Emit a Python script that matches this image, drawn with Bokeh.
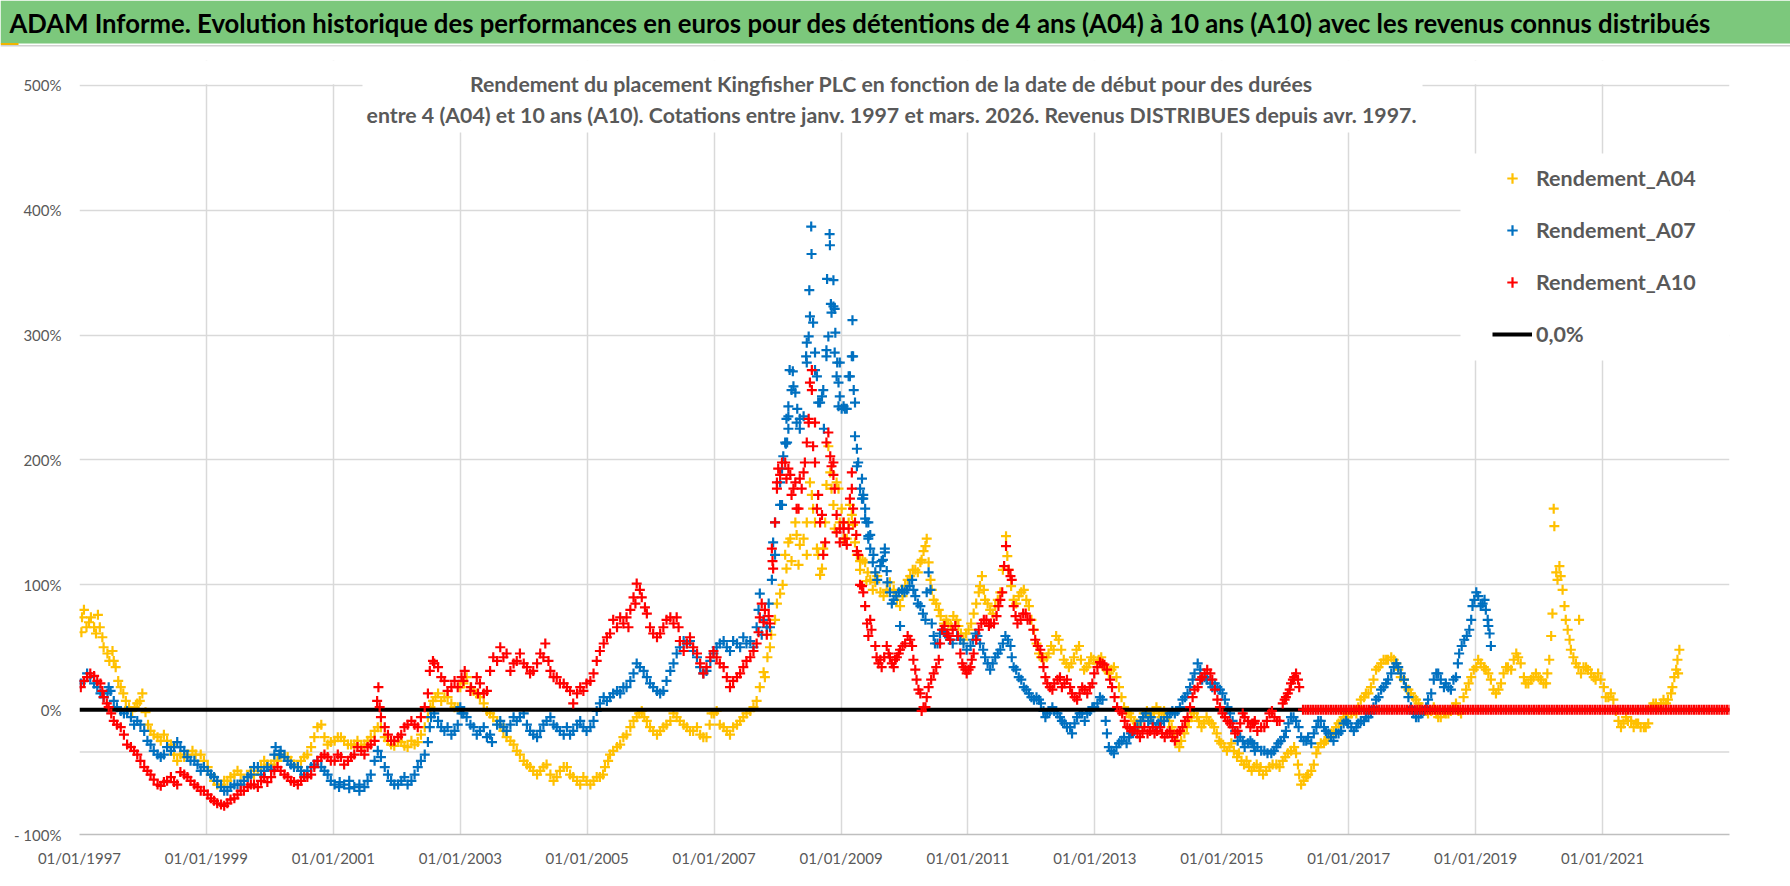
from bokeh.plotting import figure
from bokeh.models import Range1d, FixedTicker, Label, Span, Legend, LegendItem, BoxAnnotation
from bokeh.layouts import column
from bokeh.embed import file_html
from bokeh.resources import INLINE

# ---------------- data (decimal year of start date, performance in %) ----------------
A04 = [(1997.03,62),(1997.07,80),(1997.15,70),(1997.23,66),(1997.29,76),(1997.36,58),(1997.44,45),(1997.52,47),
(1997.57,34),(1997.65,18),(1997.73,7),(1997.83,-1),(1997.91,5),(1997.99,13),(1998.04,-2),(1998.12,-17),(1998.23,-22),
(1998.33,-20),(1998.44,-28),(1998.54,-41),(1998.65,-38),(1998.78,-33),(1998.91,-36),(1999.02,-46),(1999.12,-57),
(1999.23,-60),(1999.33,-57),(1999.44,-52),(1999.54,-52),(1999.65,-54),(1999.75,-52),(1999.86,-46),(1999.96,-44),
(2000.07,-41),(2000.17,-36),(2000.28,-38),(2000.38,-44),(2000.49,-41),(2000.59,-36),(2000.70,-22),(2000.81,-12),
(2000.91,-28),(2001.02,-25),(2001.12,-22),(2001.23,-28),(2001.33,-28),(2001.44,-30),(2001.54,-25),(2001.65,-17),
(2001.75,-14),(2001.86,-25),(2001.96,-29),(2002.07,-26),(2002.17,-30),(2002.28,-28),(2002.38,-20),(2002.49,-6),
(2002.57,7),(2002.65,13),(2002.75,10),(2002.86,5),(2002.96,2),(2003.00,18),(2003.10,26),(2003.21,15),(2003.31,10),
(2003.42,-1),(2003.52,-6),(2003.63,-12),(2003.73,-22),(2003.84,-28),(2003.94,-36),(2004.05,-44),(2004.15,-49),
(2004.26,-49),(2004.36,-44),(2004.47,-57),(2004.57,-49),(2004.68,-46),(2004.78,-54),(2004.89,-60),(2004.99,-57),
(2005.10,-57),(2005.20,-54),(2005.28,-46),(2005.36,-36),(2005.47,-30),(2005.57,-22),(2005.68,-14),(2005.78,-6),
(2005.86,-1),(2005.94,-9),(2006.04,-17),(2006.15,-17),(2006.25,-12),(2006.36,-3),(2006.46,-9),(2006.57,-14),
(2006.67,-17),(2006.78,-20),(2006.88,-22),(2006.96,-3),(2007.04,-1),(2007.15,-14),(2007.25,-20),(2007.36,-12),
(2007.46,-6),(2007.57,-1),(2007.67,7),(2007.72,18),(2007.80,26),(2007.88,50),(2007.96,72),(2008.04,93),(2008.14,113),
(2008.20,137),(2008.28,150),(2008.35,132),(2008.46,150),(2008.51,182),(2008.56,161),(2008.62,129),(2008.70,113),
(2008.75,150),(2008.80,211),(2008.85,177),(2008.93,182),(2008.98,150),(2009.04,150),(2009.09,137),(2009.14,164),
(2009.19,148),(2009.25,124),(2009.30,112),(2009.38,118),(2009.46,104),(2009.54,102),(2009.62,94),(2009.72,96),
(2009.83,96),(2009.93,83),(2010.01,99),(2010.09,107),(2010.17,112),(2010.25,118),(2010.30,127),(2010.35,137),
(2010.41,104),(2010.46,88),(2010.54,80),(2010.62,69),(2010.69,69),(2010.77,75),(2010.85,67),(2010.93,56),(2011.01,64),
(2011.09,77),(2011.17,94),(2011.22,107),(2011.27,88),(2011.35,80),(2011.43,83),(2011.51,94),(2011.60,139),(2011.64,112),
(2011.72,88),(2011.80,91),(2011.88,96),(2011.96,83),(2012.04,64),(2012.12,45),(2012.19,40),(2012.27,45),(2012.35,48),
(2012.43,56),(2012.51,40),(2012.59,34),(2012.67,42),(2012.75,51),(2012.83,32),(2012.91,37),(2012.98,40),(2013.06,40),
(2013.14,34),(2013.22,29),(2013.30,34),(2013.38,18),(2013.46,2),(2013.54,-3),(2013.62,-9),(2013.69,-14),(2013.77,-3),
(2013.85,-3),(2013.93,-1),(2014.01,-3),(2014.09,-1),(2014.17,-9),(2014.25,-19),(2014.33,-30),(2014.41,-19),(2014.48,-9),
(2014.56,-3),(2014.64,-9),(2014.72,-11),(2014.80,-9),(2014.88,-14),(2014.96,-25),(2015.04,-30),(2015.12,-30),
(2015.19,-33),(2015.27,-35),(2015.35,-44),(2015.43,-46),(2015.51,-46),(2015.59,-49),(2015.65,-52),(2015.75,-46),
(2015.86,-44),(2015.96,-41),(2016.04,-35),(2016.14,-30),(2016.20,-44),(2016.25,-60),(2016.33,-54),(2016.41,-49),
(2016.49,-35),(2016.56,-27),(2016.64,-25),(2016.72,-19),(2016.80,-14),(2016.88,-9),(2016.96,-3),(2017.04,-3),
(2017.12,-3),(2017.19,8),(2017.27,13),(2017.35,18),(2017.43,32),(2017.51,37),(2017.59,40),(2017.67,42),(2017.75,37),
(2017.82,26),(2017.90,18),(2017.98,13),(2018.06,8),(2018.14,2),(2018.22,-1),(2018.30,-1),(2018.38,-3),(2018.45,-6),
(2018.53,-3),(2018.61,-1),(2018.69,5),(2018.77,-3),(2018.85,16),(2018.93,26),(2019.01,34),(2019.08,37),(2019.16,32),
(2019.24,24),(2019.32,13),(2019.40,21),(2019.48,34),(2019.56,32),(2019.64,45),(2019.71,37),(2019.79,21),(2019.87,24),
(2019.95,29),(2020.03,24),(2020.11,21),(2020.16,40),(2020.19,59),(2020.21,77),(2020.23,161),(2020.24,147),(2020.27,110),
(2020.32,115),(2020.37,96),(2020.40,83),(2020.45,64),(2020.50,48),(2020.58,37),(2020.63,72),(2020.66,29),(2020.74,34),
(2020.82,29),(2020.89,24),(2020.97,24),(2021.05,10),(2021.13,13),(2021.21,-1),(2021.29,-14),(2021.37,-6),(2021.45,-9),
(2021.53,-11),(2021.60,-14),(2021.68,-14),(2021.76,2),(2021.84,5),(2021.92,5),(2022.00,5),(2022.08,13),(2022.13,26),
(2022.18,40),(2022.21,48)]

# second reading pass (in-between dates, spread of the daily cloud)
A04_B = [(1997.04,74),(1997.11,66),(1997.18,74),(1997.26,61),(1997.32,66),(1997.38,50),(1997.47,39),(1997.54,39),
(1997.61,23),(1997.69,13),(1997.78,2),(1997.87,2),(1997.95,7),(1998.08,-12),(1998.17,-20),(1998.28,-25),(1998.38,-25),
(1998.49,-36),(1998.59,-36),(1998.70,-36),(1998.83,-36),(1998.96,-41),(1999.07,-52),(1999.17,-60),(1999.28,-57),
(1999.38,-54),(1999.49,-49),(1999.59,-57),(1999.70,-49),(1999.81,-49),(1999.91,-41),(2000.02,-44),(2000.12,-41),
(2000.23,-38),(2000.33,-41),(2000.44,-46),(2000.54,-38),(2000.65,-30),(2000.75,-14),(2000.86,-22),(2000.96,-26),
(2001.07,-22),(2001.17,-25),(2001.28,-28),(2001.38,-25),(2001.49,-28),(2001.59,-22),(2001.70,-14),(2001.81,-22),
(2001.91,-28),(2002.02,-25),(2002.12,-29),(2002.23,-25),(2002.33,-26),(2002.44,-14),(2002.53,2),(2002.61,10),
(2002.70,7),(2002.80,10),(2002.91,2),(2003.05,21),(2003.16,18),(2003.26,13),(2003.37,5),(2003.47,-3),(2003.58,-9),
(2003.68,-17),(2003.79,-25),(2003.89,-33),(2004.00,-41),(2004.10,-46),(2004.21,-52),(2004.31,-46),(2004.42,-52),
(2004.52,-54),(2004.63,-46),(2004.73,-52),(2004.84,-57),(2004.94,-54),(2005.05,-60),(2005.15,-54),(2005.25,-52),
(2005.33,-41),(2005.41,-33),(2005.52,-28),(2005.62,-20),(2005.73,-9),(2005.82,-3),(2005.90,-6),(2005.99,-14),
(2006.10,-20),(2006.20,-14),(2006.31,-9),(2006.41,-6),(2006.52,-12),(2006.62,-17),(2006.73,-14),(2006.83,-22),
(2006.93,-12),(2007.00,-3),(2007.09,-12),(2007.20,-17),(2007.30,-14),(2007.41,-9),(2007.51,-3),(2007.62,2),
(2009.34,120),(2009.42,110),(2009.50,96),(2009.57,107),(2009.67,91),(2009.77,102),(2009.88,88),(2009.97,91),
(2010.05,104),(2010.13,112),(2010.21,110),(2010.27,120),(2010.33,131),(2010.38,118),(2010.43,96),(2010.50,85),
(2010.57,75),(2010.66,72),(2010.73,67),(2010.82,72),(2010.89,61),(2010.97,61),(2011.05,69),(2011.13,85),(2011.19,99),
(2011.25,96),(2011.31,85),(2011.39,77),(2011.47,88),(2011.55,112),(2011.62,123),(2011.68,99),(2011.76,85),(2011.84,94),
(2011.92,88),(2012.00,72),(2012.08,53),(2012.15,42),(2012.24,42),(2012.31,51),(2012.39,59),(2012.47,48),(2012.55,37),
(2012.63,37),(2012.71,48),(2012.78,40),(2012.87,34),(2012.94,42),(2013.03,37),(2013.10,42),(2013.18,32),(2013.26,32),
(2013.34,26),(2013.42,10),(2013.50,-1),(2013.57,-6),(2013.66,-11),(2013.73,-9),(2013.82,-1),(2013.89,-6),(2013.97,2),
(2014.05,-6),(2014.13,-3),(2014.21,-14),(2014.29,-25),(2014.36,-25),(2014.45,-14),(2014.52,-6),(2014.61,-6),
(2014.68,-14),(2014.76,-6),(2014.84,-11),(2014.92,-19),(2014.99,-27),(2015.08,-33),(2015.15,-27),(2015.24,-38),
(2015.31,-41),(2015.39,-41),(2015.47,-49),(2015.55,-44),(2015.61,-46),(2015.70,-49),(2015.80,-44),(2015.91,-46),
(2016.00,-38),(2016.09,-33),(2016.17,-35),(2016.22,-52),(2016.29,-57),(2016.36,-52),(2016.45,-44),(2016.52,-30),
(2016.61,-27),(2016.68,-22),(2016.76,-17),(2016.84,-11),(2016.92,-6),(2016.99,-6),(2017.08,-1),(2017.15,2),
(2017.24,10),(2017.31,13),(2017.39,24),(2017.47,34),(2017.55,40),(2017.62,40),(2017.71,40),(2017.78,32),(2017.87,24),
(2017.94,16),(2018.02,10),(2018.10,5),(2018.18,-1),(2018.25,-3),(2018.34,2),(2018.41,-6),(2018.50,-1),(2018.57,-3),
(2018.65,2),(2018.73,-1),(2018.81,10),(2018.89,21),(2018.97,32),(2019.04,40),(2019.13,34),(2019.20,29),(2019.28,16),
(2019.36,16),(2019.44,29),(2019.51,34),(2019.60,40),(2019.67,42),(2019.76,26),(2019.83,21),(2019.91,26),(2019.99,26),
(2020.07,21),(2020.13,29),(2020.29,104),(2020.34,107),(2020.42,72),(2020.48,56),(2020.54,42),(2020.62,34),(2020.70,34),
(2020.77,32),(2020.86,26),(2020.93,29),(2021.02,18),(2021.09,10),(2021.17,8),(2021.25,-9),(2021.33,-11),(2021.40,-9),
(2021.49,-14),(2021.56,-11),(2021.65,-14),(2021.72,-11),(2021.80,5),(2021.88,2),(2021.96,8),(2022.03,8),(2022.10,18),
(2022.16,32),(2022.19,29)]

# third pass: the 2007-2009 peak cloud
A04_C = [(2007.78,30),(2007.84,42),(2007.90,60),(2007.99,85),(2008.08,100),(2008.12,124),(2008.17,134),(2008.22,119),
(2008.30,140),(2008.33,116),(2008.41,137),(2008.46,124),(2008.54,172),(2008.59,150),(2008.64,124),(2008.67,108),
(2008.72,129),(2008.77,180),(2008.83,190),(2008.88,164),(2008.90,145),(2008.96,177),(2009.01,161),(2009.04,137),
(2009.12,150),(2009.17,156),(2009.22,134),(2009.30,119),(2009.40,103)]

A07 = [(1997.02,21),(1997.12,29),(1997.23,21),(1997.33,13),(1997.44,13),(1997.49,15),(1997.59,2),(1997.70,-3),
(1997.81,-6),(1997.91,-9),(1998.02,-17),(1998.12,-28),(1998.23,-36),(1998.33,-36),(1998.44,-33),(1998.54,-26),
(1998.65,-33),(1998.75,-41),(1998.86,-44),(1998.96,-46),(1999.07,-52),(1999.17,-57),(1999.28,-65),(1999.38,-62),
(1999.49,-60),(1999.59,-57),(1999.70,-52),(1999.81,-46),(1999.91,-49),(2000.02,-48),(2000.09,-30),(2000.17,-33),
(2000.28,-41),(2000.38,-46),(2000.49,-49),(2000.59,-49),(2000.70,-44),(2000.81,-46),(2000.91,-52),(2001.02,-60),
(2001.10,-58),(2001.17,-60),(2001.25,-63),(2001.33,-62),(2001.41,-60),(2001.49,-62),(2001.59,-52),(2001.70,-33),
(2001.81,-46),(2001.91,-57),(2002.02,-60),(2002.12,-54),(2002.23,-57),(2002.33,-46),(2002.44,-36),(2002.49,-26),
(2002.54,-6),(2002.65,-9),(2002.75,-17),(2002.86,-20),(2002.96,-12),(2003.00,2),(2003.10,-6),(2003.21,-14),
(2003.31,-17),(2003.42,-22),(2003.50,-26),(2003.58,-12),(2003.68,-14),(2003.79,-12),(2003.89,-9),(2004.00,-3),
(2004.10,-17),(2004.21,-22),(2004.31,-12),(2004.42,-6),(2004.52,-14),(2004.63,-20),(2004.73,-20),(2004.84,-12),
(2004.94,-14),(2005.05,-14),(2005.15,-1),(2005.26,10),(2005.36,10),(2005.47,15),(2005.57,18),(2005.68,23),(2005.78,37),
(2005.89,31),(2005.99,21),(2006.10,15),(2006.20,15),(2006.31,31),(2006.41,45),(2006.52,55),(2006.62,55),(2006.73,42),
(2006.83,29),(2006.94,39),(2007.04,50),(2007.15,55),(2007.25,47),(2007.36,53),(2007.46,58),(2007.57,55),(2007.67,66),
(2007.72,93),(2007.83,66),(2007.91,104),(2007.96,124),(2008.04,164),(2008.07,193),(2008.12,214),(2008.17,235),
(2008.22,256),(2008.24,271),(2008.28,254),(2008.30,230),(2008.35,225),(2008.41,235),(2008.45,283),(2008.49,299),
(2008.50,336),(2008.53,387),(2008.535,365),(2008.56,310),(2008.59,286),(2008.64,246),(2008.70,251),(2008.73,225),
(2008.77,283),(2008.78,345),(2008.82,381),(2008.825,372),(2008.84,325),(2008.88,344),(2008.90,321),(2008.91,302),
(2008.93,267),(2008.96,243),(2008.98,278),(2009.04,243),(2009.09,241),(2009.14,267),(2009.18,312),(2009.19,283),
(2009.22,246),(2009.25,195),(2009.30,177),(2009.35,172),(2009.40,150),(2009.43,137),(2009.46,129),(2009.54,110),
(2009.62,115),(2009.69,126),(2009.77,94),(2009.83,88),(2009.91,94),(2009.93,67),(2009.96,96),(2010.04,96),(2010.12,104),
(2010.17,91),(2010.25,83),(2010.33,72),(2010.38,110),(2010.41,96),(2010.43,69),(2010.48,53),(2010.56,61),(2010.64,61),
(2010.72,56),(2010.83,59),(2010.93,53),(2011.04,51),(2011.12,61),(2011.19,53),(2011.27,42),(2011.35,32),(2011.43,42),
(2011.51,48),(2011.59,59),(2011.67,51),(2011.72,34),(2011.80,26),(2011.88,18),(2011.96,13),(2012.04,8),(2012.12,8),
(2012.19,-1),(2012.25,-3),(2012.33,2),(2012.41,-3),(2012.48,-9),(2012.56,-14),(2012.64,-19),(2012.72,-6),(2012.80,-3),
(2012.88,-3),(2012.96,2),(2013.04,5),(2013.12,8),(2013.17,-9),(2013.22,-30),(2013.30,-35),(2013.38,-27),(2013.46,-22),
(2013.54,-22),(2013.62,-17),(2013.72,-9),(2013.80,-3),(2013.88,-6),(2013.96,-14),(2014.04,-9),(2014.14,-6),(2014.22,-1),
(2014.30,-1),(2014.38,8),(2014.46,13),(2014.54,24),(2014.62,37),(2014.69,24),(2014.77,24),(2014.85,18),(2014.93,18),
(2015.01,13),(2015.09,2),(2015.17,-9),(2015.25,-25),(2015.33,-25),(2015.41,-27),(2015.48,-27),(2015.56,-30),
(2015.67,-33),(2015.78,-35),(2015.86,-30),(2015.93,-25),(2016.01,-17),(2016.09,-6),(2016.17,-9),(2016.25,-22),
(2016.33,-25),(2016.41,-27),(2016.49,-14),(2016.56,-9),(2016.64,-17),(2016.72,-22),(2016.80,-19),(2016.88,-17),
(2016.96,-9),(2017.04,-14),(2017.12,-14),(2017.19,-9),(2017.27,-6),(2017.35,-3),(2017.43,8),(2017.51,16),(2017.59,21),
(2017.67,29),(2017.75,37),(2017.82,29),(2017.90,18),(2017.98,2),(2018.06,-6),(2018.14,-3),(2018.22,2),(2018.30,13),
(2018.38,29),(2018.45,24),(2018.53,21),(2018.61,16),(2018.69,26),(2018.74,45),(2018.82,56),(2018.90,64),(2018.95,83),
(2019.01,94),(2019.08,83),(2019.14,88),(2019.19,72),(2019.22,61),(2019.24,51)]

A07_B = [(1997.07,23),(1997.17,26),(1997.28,18),(1997.38,10),(1997.46,18),(1997.54,7),(1997.65,-1),(1997.75,-1),
(1997.86,-12),(1997.96,-12),(1998.07,-25),(1998.17,-33),(1998.28,-38),(1998.38,-30),(1998.49,-30),(1998.59,-30),
(1998.70,-38),(1998.81,-41),(1998.91,-49),(1999.02,-49),(1999.12,-54),(1999.23,-62),(1999.33,-65),(1999.44,-60),
(1999.54,-60),(1999.65,-54),(1999.75,-46),(1999.86,-52),(1999.96,-46),(2000.07,-36),(2000.15,-36),(2000.23,-38),
(2000.33,-44),(2000.44,-46),(2000.54,-52),(2000.65,-46),(2000.75,-41),(2000.86,-49),(2000.96,-57),(2001.09,-62),
(2001.25,-57),(2001.41,-65),(2001.54,-57),(2001.65,-41),(2001.75,-38),(2001.86,-52),(2001.96,-60),(2002.07,-57),
(2002.17,-60),(2002.28,-52),(2002.38,-41),(2002.52,-14),(2002.59,-3),(2002.70,-14),(2002.80,-14),(2002.91,-17),
(2003.02,-3),(2003.05,-3),(2003.16,-12),(2003.26,-20),(2003.37,-14),(2003.47,-20),(2003.63,-9),(2003.73,-17),
(2003.84,-6),(2003.94,-6),(2004.05,-12),(2004.15,-20),(2004.26,-17),(2004.36,-9),(2004.47,-12),(2004.57,-17),
(2004.68,-14),(2004.78,-17),(2004.89,-9),(2004.99,-17),(2005.10,-9),(2005.20,5),(2005.31,7),(2005.41,13),(2005.52,13),
(2005.62,18),(2005.73,29),(2005.83,34),(2005.94,26),(2006.04,18),(2006.15,13),(2006.25,23),(2006.36,37),(2006.46,50),
(2006.57,53),(2006.67,47),(2006.78,34),(2006.88,31),(2006.99,45),(2007.09,53),(2007.20,50),(2007.30,55),(2007.41,50),
(2007.51,53),(2007.62,50),(2009.33,169),(2009.38,153),(2009.43,139),(2009.50,118),(2009.57,104),(2009.66,120),
(2009.73,102),(2009.80,85),(2009.87,91),(2010.00,94),(2010.08,99),(2010.14,96),(2010.21,85),(2010.29,77),(2010.35,94),
(2010.46,59),(2010.52,53),(2010.61,64),(2010.68,59),(2010.76,53),(2010.88,56),(2010.98,48),(2011.08,56),(2011.15,59),
(2011.24,48),(2011.31,37),(2011.39,37),(2011.47,45),(2011.55,53),(2011.63,56),(2011.69,42),(2011.76,32),(2011.84,24),
(2011.92,16),(2012.00,10),(2012.08,10),(2012.15,5),(2012.22,-6),(2012.29,-1),(2012.36,-1),(2012.45,-6),(2012.52,-11),
(2012.61,-14),(2012.68,-11),(2012.76,-3),(2012.84,-9),(2012.92,-1),(2012.99,2),(2013.08,10),(2013.19,-19),(2013.26,-33),
(2013.34,-30),(2013.42,-25),(2013.50,-27),(2013.57,-19),(2013.67,-14),(2013.76,-6),(2013.84,-9),(2013.92,-11),
(2014.00,-11),(2014.09,-9),(2014.18,-3),(2014.26,-3),(2014.34,2),(2014.42,10),(2014.50,18),(2014.57,29),(2014.66,32),
(2014.73,26),(2014.82,21),(2014.89,21),(2014.97,16),(2015.05,8),(2015.13,-3),(2015.21,-17),(2015.29,-22),(2015.36,-30),
(2015.45,-25),(2015.52,-33),(2015.51,-30),(2015.62,-33),(2015.72,-35),(2015.82,-33),(2015.89,-27),(2015.98,-22),
(2016.05,-11),(2016.13,-6),(2016.21,-14),(2016.29,-25),(2016.36,-22),(2016.45,-19),(2016.52,-9),(2016.61,-14),
(2016.68,-19),(2016.76,-25),(2016.84,-19),(2016.92,-11),(2016.99,-11),(2017.08,-17),(2017.15,-11),(2017.24,-9),
(2017.31,-6),(2017.39,2),(2017.47,10),(2017.55,18),(2017.62,24),(2017.71,34),(2017.78,34),(2017.87,24),(2017.94,10),
(2018.02,-3),(2018.10,-6),(2018.18,-1),(2018.25,8),(2018.34,24),(2018.41,29),(2018.50,18),(2018.57,18),(2018.65,24),
(2018.72,37),(2018.78,51),(2018.86,59),(2018.93,72),(2018.98,88),(2019.04,91),(2019.11,85),(2019.16,80),(2019.20,67)]

A07_C = [(2007.70,80),(2007.75,60),(2007.78,72),(2007.86,85),(2007.88,66),(2007.93,134),(2007.96,150),(2008.04,182),
(2008.07,164),(2008.09,203),(2008.13,213),(2008.14,233),(2008.15,214),(2008.17,243),(2008.17,225),(2008.19,272),
(2008.25,259),(2008.31,241),(2008.35,233),(2008.46,294),(2008.46,278),(2008.51,315),(2008.59,272),(2008.62,267),
(2008.67,246),(2008.72,256),(2008.77,288),(2008.80,299),(2008.85,318),(2008.88,323),(2008.90,286),(2008.94,278),
(2008.96,262),(2008.98,251),(2009.01,241),(2009.06,241),(2009.12,267),(2009.17,283),(2009.20,256),(2009.22,219),
(2009.25,209),(2009.27,198),(2009.33,185),(2009.35,169),(2009.38,161),(2009.43,150),(2009.46,140),(2009.51,124),
(2009.64,119),(2009.69,129),(2009.72,111)]

A10 = [(1997.02,18),(1997.12,26),(1997.23,27),(1997.33,21),(1997.38,10),(1997.46,2),(1997.54,-9),(1997.65,-14),
(1997.75,-28),(1997.86,-33),(1997.96,-41),(1998.07,-49),(1998.17,-56),(1998.28,-61),(1998.38,-57),(1998.49,-58),
(1998.59,-50),(1998.70,-54),(1998.81,-60),(1998.91,-65),(1999.02,-68),(1999.12,-73),(1999.23,-76),(1999.33,-75),
(1999.44,-71),(1999.54,-65),(1999.65,-62),(1999.75,-60),(1999.86,-57),(1999.96,-58),(2000.07,-49),(2000.17,-49),
(2000.28,-54),(2000.38,-58),(2000.49,-57),(2000.59,-54),(2000.70,-46),(2000.81,-38),(2000.91,-38),(2001.02,-41),
(2001.12,-38),(2001.23,-41),(2001.33,-36),(2001.44,-33),(2001.54,-30),(2001.65,-25),(2001.71,18),(2001.75,-6),
(2001.86,-20),(2001.96,-25),(2002.07,-20),(2002.17,-12),(2002.28,-12),(2002.38,-6),(2002.49,13),(2002.57,39),
(2002.65,34),(2002.75,23),(2002.86,18),(2002.96,18),(2003.07,31),(2003.17,18),(2003.28,13),(2003.31,21),(2003.42,15),
(2003.52,42),(2003.63,50),(2003.73,45),(2003.84,37),(2003.94,45),(2004.05,34),(2004.15,31),(2004.26,45),(2004.34,53),
(2004.42,31),(2004.52,26),(2004.63,21),(2004.73,15),(2004.78,5),(2004.89,18),(2004.99,21),(2005.10,29),(2005.20,47),
(2005.31,58),(2005.41,72),(2005.52,74),(2005.62,74),(2005.68,80),(2005.73,90),(2005.78,101),(2005.86,90),(2005.94,77),
(2005.99,66),(2006.10,58),(2006.20,66),(2006.31,74),(2006.41,74),(2006.46,55),(2006.52,47),(2006.62,58),(2006.73,45),
(2006.83,29),(2006.94,42),(2007.04,42),(2007.15,34),(2007.25,18),(2007.36,26),(2007.46,34),(2007.57,42),(2007.67,53),
(2007.72,74),(2007.80,80),(2007.88,69),(2007.91,129),(2007.96,150),(2007.99,182),(2008.04,188),(2008.12,198),
(2008.17,193),(2008.25,177),(2008.30,161),(2008.35,185),(2008.43,198),(2008.49,230),(2008.51,262),(2008.54,272),
(2008.56,211),(2008.62,161),(2008.67,150),(2008.72,124),(2008.80,222),(2008.85,195),(2008.88,188),(2008.93,156),
(2008.98,145),(2009.04,145),(2009.09,132),(2009.14,169),(2009.17,190),(2009.22,150),(2009.25,127),(2009.30,100),
(2009.35,94),(2009.38,83),(2009.41,69),(2009.43,59),(2009.48,64),(2009.54,51),(2009.59,37),(2009.64,34),(2009.72,51),
(2009.77,42),(2009.83,34),(2009.88,42),(2009.93,48),(2010.01,53),(2010.09,56),(2010.14,40),(2010.19,24),(2010.25,13),
(2010.27,-1),(2010.33,2),(2010.38,18),(2010.46,29),(2010.54,40),(2010.59,64),(2010.67,61),(2010.72,56),(2010.80,67),
(2010.88,45),(2010.93,34),(2010.98,29),(2011.04,34),(2011.09,45),(2011.17,64),(2011.25,72),(2011.33,67),(2011.41,69),
(2011.48,83),(2011.54,94),(2011.60,131),(2011.64,112),(2011.69,104),(2011.75,75),(2011.83,72),(2011.91,77),(2011.98,72),
(2012.06,56),(2012.14,48),(2012.19,34),(2012.25,21),(2012.33,16),(2012.41,24),(2012.48,18),(2012.56,24),(2012.64,13),
(2012.72,8),(2012.80,18),(2012.88,13),(2012.96,21),(2013.04,34),(2013.12,37),(2013.19,32),(2013.27,18),(2013.35,2),
(2013.43,-3),(2013.51,-14),(2013.59,-17),(2013.67,-19),(2013.75,-17),(2013.83,-19),(2013.91,-14),(2013.98,-17),
(2014.06,-19),(2014.14,-19),(2014.22,-22),(2014.30,-19),(2014.38,-14),(2014.46,-6),(2014.54,10),(2014.62,18),
(2014.69,26),(2014.77,32),(2014.85,24),(2014.93,8),(2015.01,-3),(2015.09,-9),(2015.17,-14),(2015.25,-17),(2015.33,-3),
(2015.41,-9),(2015.48,-11),(2015.56,-17),(2015.67,-14),(2015.75,-3),(2015.83,-6),(2015.91,-9),(2015.96,5),(2016.01,10),
(2016.07,16),(2016.12,24),(2016.17,29),(2016.22,18)]

A10_B = [(1997.07,23),(1997.17,29),(1997.28,23),(1997.36,15),(1997.43,5),(1997.50,-3),(1997.59,-12),(1997.70,-20),
(1997.81,-30),(1997.91,-36),(1998.02,-46),(1998.12,-52),(1998.23,-60),(1998.33,-58),(1998.44,-54),(1998.54,-60),
(1998.65,-52),(1998.75,-57),(1998.86,-62),(1998.96,-65),(1999.07,-71),(1999.17,-75),(1999.28,-77),(1999.38,-72),
(1999.49,-68),(1999.59,-65),(1999.70,-60),(1999.81,-62),(1999.91,-54),(2000.02,-54),(2000.12,-46),(2000.23,-52),
(2000.33,-57),(2000.44,-60),(2000.54,-54),(2000.65,-52),(2000.75,-41),(2000.86,-36),(2000.96,-41),(2001.07,-36),
(2001.17,-44),(2001.28,-38),(2001.38,-30),(2001.49,-36),(2001.59,-28),(2001.69,7),(2001.73,2),(2001.81,-14),
(2001.91,-25),(2002.02,-22),(2002.12,-14),(2002.23,-9),(2002.33,-14),(2002.44,2),(2002.52,31),(2002.59,37),(2002.70,26),
(2002.80,15),(2002.91,23),(2003.02,26),(2003.05,23),(2003.16,15),(2003.26,26),(2003.37,13),(2003.47,31),(2003.58,39),
(2003.68,42),(2003.79,31),(2003.89,39),(2004.00,37),(2004.10,29),(2004.21,37),(2004.31,42),(2004.39,39),(2004.47,26),
(2004.57,21),(2004.68,18),(2004.84,13),(2004.94,15),(2005.05,23),(2005.15,39),(2005.26,53),(2005.36,61),(2005.47,66),
(2005.57,69),(2005.65,66),(2005.76,85),(2005.83,96),(2005.91,82),(2006.04,61),(2006.15,61),(2006.25,72),(2006.36,69),
(2006.44,66),(2006.57,53),(2006.67,50),(2006.78,37),(2006.88,34),(2006.99,47),(2007.09,37),(2007.20,26),(2007.30,23),
(2007.41,29),(2007.51,39),(2007.62,47),(2009.33,99),(2009.46,72),(2009.56,42),(2009.62,40),(2009.68,42),(2009.75,45),
(2009.80,37),(2009.85,40),(2009.91,45),(2009.97,51),(2010.05,59),(2010.12,51),(2010.17,32),(2010.22,16),(2010.30,2),
(2010.35,10),(2010.42,24),(2010.50,34),(2010.56,53),(2010.63,67),(2010.69,59),(2010.76,64),(2010.84,59),(2010.91,37),
(2010.96,32),(2011.01,32),(2011.06,40),(2011.13,56),(2011.21,69),(2011.29,72),(2011.36,69),(2011.45,75),(2011.51,88),
(2011.57,115),(2011.67,107),(2011.72,83),(2011.78,69),(2011.87,77),(2011.94,72),(2012.03,64),(2012.10,51),(2012.17,42),
(2012.22,26),(2012.29,18),(2012.36,21),(2012.45,26),(2012.52,21),(2012.61,18),(2012.68,10),(2012.76,13),(2012.84,16),
(2012.92,18),(2012.99,29),(2013.08,38),(2013.15,36),(2013.24,24),(2013.31,10),(2013.39,-1),(2013.47,-9),(2013.55,-15),
(2013.63,-14),(2013.71,-22),(2013.78,-14),(2013.87,-17),(2013.94,-19),(2014.03,-14),(2014.10,-22),(2014.18,-17),
(2014.26,-25),(2014.34,-17),(2014.42,-9),(2014.50,2),(2014.57,16),(2014.66,24),(2014.73,29),(2014.82,29),(2014.89,16),
(2014.97,2),(2015.05,-6),(2015.13,-11),(2015.21,-19),(2015.29,-11),(2015.36,-6),(2015.45,-14),(2015.52,-9),
(2015.51,-11),(2015.62,-14),(2015.71,-9),(2015.79,-1),(2015.87,-9),(2015.99,8),(2016.04,13),(2016.09,21),(2016.14,26),
(2016.20,24)]

A10_C = [(2007.70,62),(2007.75,85),(2007.78,70),(2007.83,60),(2007.86,75),(2007.92,119),(2007.93,113),(2007.99,177),
(2008.01,193),(2008.07,198),(2008.14,185),(2008.20,188),(2008.22,172),(2008.28,182),(2008.33,161),(2008.38,177),
(2008.41,190),(2008.46,214),(2008.49,233),(2008.54,256),(2008.59,230),(2008.59,198),(2008.64,172),(2008.70,156),
(2008.75,134),(2008.77,214),(2008.83,203),(2008.88,198),(2008.90,177),(2008.93,142),(2008.98,134),(2009.04,150),
(2009.06,137),(2009.12,145),(2009.17,177),(2009.19,161),(2009.24,140),(2009.27,124)]

# A10 has no 10-year horizon after spring 2016: the series is reported as 0 up to the end of the axis
A10_ZERO_DATES = [round(2016.28 + 0.04 * i, 2) for i in range(169)]
A10_ZERO_VALUES = [0.0] * len(A10_ZERO_DATES)

ZERO_DATES = [1997.0, 2023.0]
ZERO_VALUES = [0.0, 0.0]

X_TICKS = [1997, 1999, 2001, 2003, 2005, 2007, 2009, 2011, 2013, 2015, 2017, 2019, 2021]
X_LABELS = ["01/01/%d" % y for y in X_TICKS]
Y_TICKS = [-100, 0, 100, 200, 300, 400, 500]
Y_LABELS = ["- 100%", "0%", "100%", "200%", "300%", "400%", "500%"]

TITLE = ("ADAM Informe. Evolution historique des performances en euros pour des détentions "
         "de 4 ans (A04) à 10 ans (A10) avec les revenus connus distribués")
SUB1 = "Rendement du placement Kingfisher PLC en fonction de la date de début pour des durées"
SUB2 = ("entre 4 (A04) et 10 ans (A10). Cotations entre janv. 1997 et mars. 2026. "
        "Revenus DISTRIBUES depuis avr. 1997.")

FONT = "Lato"
TXT = "#595959"
GRID = "#d9d9d9"
GREEN = "#7cc87c"
MS = 10
MW = 2.2


def xs(*series):
    return [d for s in series for d, v in s]


def ys(*series):
    return [v for s in series for d, v in s]


# ---------------- title band ----------------
tf = figure(width=1790, height=48, x_range=(0, 1), y_range=(0, 1), output_backend="svg",
            toolbar_location=None, x_axis_location=None, y_axis_location=None, min_border=0)
tf.frame_align = False
tf.grid.visible = False
tf.outline_line_color = None
tf.background_fill_color = "white"
tf.border_fill_color = "white"
tf.add_layout(BoxAnnotation(bottom=5, bottom_units="screen", fill_color=GREEN, fill_alpha=1, line_color=None))
tf.add_layout(BoxAnnotation(bottom=2, top=3.5, bottom_units="screen", top_units="screen",
                            fill_color="#d0d0d0", fill_alpha=1, line_color=None))
tf.add_layout(BoxAnnotation(left=0, right=18, bottom=3.5, top=5.5, left_units="screen", right_units="screen",
                            bottom_units="screen", top_units="screen",
                            fill_color="#f0b400", fill_alpha=1, line_color=None))
tf.add_layout(Label(x=9, y=26, x_units="screen", y_units="screen", text=TITLE, text_font=FONT,
                    text_font_size="25.7px", text_font_style="bold", text_color="black",
                    text_baseline="middle", text_align="left"))

# ---------------- main chart ----------------
# frame: page x 79..1729; y = 500 % at page 85, -100 % at page 834 (frame extended above 500 % for the title)
p = figure(width=1790, height=838, x_range=Range1d(1997, 2023), y_range=Range1d(-100, 520),
           output_backend="svg", toolbar_location=None,
           min_border_left=79, min_border_right=61, min_border_top=12, min_border_bottom=52)
p.frame_align = False
p.outline_line_color = None
p.background_fill_color = "white"
p.border_fill_color = "white"

p.xaxis.ticker = FixedTicker(ticks=X_TICKS)
p.xaxis.major_label_overrides = dict(zip(X_TICKS, X_LABELS))
p.yaxis.ticker = FixedTicker(ticks=Y_TICKS)
p.yaxis.major_label_overrides = dict(zip(Y_TICKS, Y_LABELS))
for ax in (p.xaxis, p.yaxis):
    ax.major_tick_line_color = None
    ax.minor_tick_line_color = None
    ax.major_label_text_font = FONT
    ax.major_label_text_font_size = "15px"
    ax.major_label_text_color = TXT
p.xaxis.axis_line_color = "#bfbfbf"
p.xaxis.axis_line_width = 1.5
p.xaxis.major_label_standoff = 8
p.yaxis.axis_line_color = None
p.yaxis.major_label_standoff = 12
p.grid.grid_line_color = GRID
p.grid.grid_line_width = 1.5
p.add_layout(Span(location=-34, dimension="width", line_color=GRID, line_width=1.5, level="underlay"))

# blank strip above 500 %, white boxes of the chart title and of the legend (hide the grid behind them)
p.add_layout(BoxAnnotation(bottom=501, fill_color="white", fill_alpha=1, line_color=None, level="underlay"))
p.add_layout(BoxAnnotation(left=283, right=1343, bottom=702, top=790, left_units="screen",
                           right_units="screen", bottom_units="screen", top_units="screen",
                           fill_color="white", fill_alpha=1, line_color=None, level="underlay"))
p.add_layout(BoxAnnotation(left=1381, right=1655, bottom=474, top=681, left_units="screen",
                           right_units="screen", bottom_units="screen", top_units="screen",
                           fill_color="white", fill_alpha=1, line_color=None, level="underlay"))

r04 = p.scatter(xs(A04, A04_B, A04_C), ys(A04, A04_B, A04_C), marker="cross", size=MS, line_width=MW,
                color="#ffc000")
r07 = p.scatter(xs(A07, A07_B, A07_C), ys(A07, A07_B, A07_C), marker="cross", size=MS, line_width=MW,
                color="#0070c0")
r00 = p.line(ZERO_DATES, ZERO_VALUES, line_color="black", line_width=4)
r10 = p.scatter(xs(A10, A10_B, A10_C) + A10_ZERO_DATES, ys(A10, A10_B, A10_C) + A10_ZERO_VALUES,
                marker="cross", size=MS, line_width=MW, color="#ff0000")

p.add_layout(Label(x=812, y=751, x_units="screen", y_units="screen", text=SUB1, text_font=FONT,
                   text_font_size="21.3px", text_font_style="bold", text_color=TXT,
                   text_align="center", text_baseline="middle"))
p.add_layout(Label(x=812, y=720, x_units="screen", y_units="screen", text=SUB2, text_font=FONT,
                   text_font_size="21.3px", text_font_style="bold", text_color=TXT,
                   text_align="center", text_baseline="middle"))

legend = Legend(items=[LegendItem(label="Rendement_A04", renderers=[r04]),
                       LegendItem(label="Rendement_A07", renderers=[r07]),
                       LegendItem(label="Rendement_A10", renderers=[r10]),
                       LegendItem(label="0,0%", renderers=[r00])],
                location=(1413, 487), orientation="vertical")
legend.label_text_font = FONT
legend.label_text_font_size = "21.5px"
legend.label_text_font_style = "bold"
legend.label_text_color = TXT
legend.border_line_color = None
legend.background_fill_alpha = 0
legend.glyph_width = 40
legend.glyph_height = 26
legend.label_height = 26
legend.label_standoff = 4
legend.spacing = 26
legend.padding = 8
legend.margin = 0
p.add_layout(legend)

layout = column(tf, p, spacing=0)
open("out.html", "w").write(file_html(layout, INLINE))
